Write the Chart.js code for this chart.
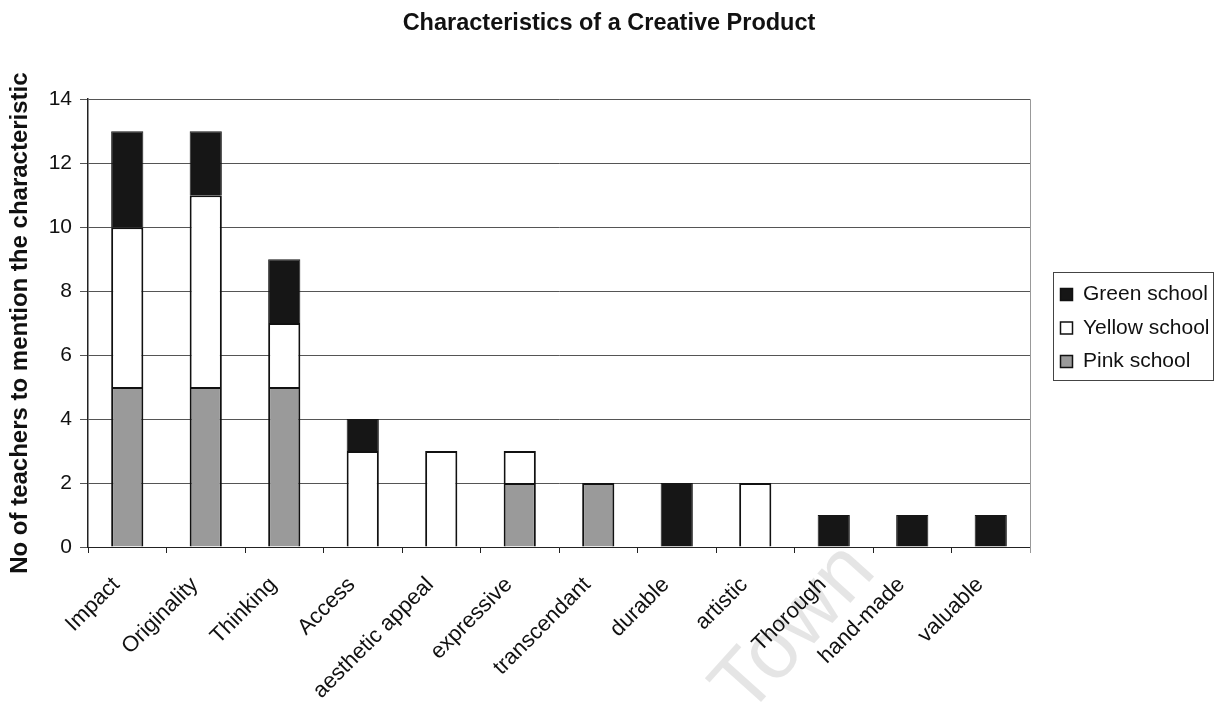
<!DOCTYPE html>
<html><head><meta charset="utf-8">
<script src="https://cdn.jsdelivr.net/npm/chart.js@4/dist/chart.umd.min.js"></script>
<style>html,body{margin:0;padding:0;background:#fff}#wrap{width:1218px;height:702px}</style>
</head><body><div id="wrap"><canvas id="c" width="1218" height="702"></canvas></div>
<script>
const categories = ["Impact","Originality","Thinking","Access","aesthetic appeal","expressive","transcendant","durable","artistic","Thorough","hand-made","valuable"];
const pinkSchool   = [5,5,5,0,0,2,2,0,0,0,0,0];
const yellowSchool = [5,6,2,3,3,1,0,0,2,0,0,0];
const greenSchool  = [3,2,2,1,0,0,0,2,0,1,1,1];
const yTicks = [0,2,4,6,8,10,12,14];

const FONT = "'Liberation Sans', Arial, sans-serif";

const extras = {
  id: 'extras',
  beforeLayout(chart) {
    const lg = chart.legend;
    if (lg && !lg._patched) {
      const f = lg.fit.bind(lg);
      lg.fit = function () { f(); this.width = 188; };
      lg._patched = true;
    }
  },
  afterLayout(chart) {
    const lg = chart.legend;
    if (lg) { lg.left += 18; lg.right += 18; lg.top -= 23; lg.bottom -= 23; }
  },
  afterDraw(chart) {
    const ctx = chart.ctx, a = chart.chartArea;
    ctx.save();
    // right border of plot area
    ctx.strokeStyle = '#999'; ctx.lineWidth = 1;
    ctx.beginPath(); ctx.moveTo(a.right + 0.5, a.top); ctx.lineTo(a.right + 0.5, a.bottom + 6); ctx.stroke();
    // legend frame
    ctx.strokeStyle = '#444'; ctx.lineWidth = 1;
    ctx.strokeRect(1053.5, 272.5, 160, 108);
    // watermark
    ctx.translate(795, 630);
    ctx.rotate(-48 * Math.PI / 180);
    ctx.fillStyle = 'rgba(0,0,0,0.10)';
    ctx.font = "84px " + FONT;
    ctx.textAlign = 'center'; ctx.textBaseline = 'middle';
    ctx.fillText('Town', 0, 0);
    ctx.restore();
  }
};

new Chart(document.getElementById('c'), {
  type: 'bar',
  data: {
    labels: categories,
    datasets: [
      { label: 'Pink school', data: pinkSchool, backgroundColor: '#9a9a9a', borderColor: '#111', borderWidth: 2 },
      { label: 'Yellow school', data: yellowSchool, backgroundColor: '#ffffff', borderColor: '#111', borderWidth: 2 },
      { label: 'Green school', data: greenSchool, backgroundColor: '#161616', borderColor: '#161616', borderWidth: 1 }
    ]
  },
  plugins: [extras],
  options: {
    responsive: false,
    animation: false,
    devicePixelRatio: 1,
    layout: { padding: { top: 0, right: 0, bottom: 0, left: 0 } },
    datasets: { bar: { barPercentage: 0.41, categoryPercentage: 1.0 } },
    plugins: {
      title: { display: true, text: 'Characteristics of a Creative Product', color: '#111',
        font: { family: FONT, size: 23.5, weight: 'bold' }, padding: { top: 9, bottom: 62 } },
      legend: {
        position: 'right', reverse: true,
        labels: { color: '#111', font: { family: FONT, size: 21 }, boxWidth: 12, boxHeight: 12, padding: 12.5,
          generateLabels(chart) {
            return chart.data.datasets.map((d, i) => ({
              text: d.label, fillStyle: d.backgroundColor, strokeStyle: '#111', lineWidth: 1.5,
              hidden: false, datasetIndex: i, fontColor: '#111'
            }));
          }
        }
      },
      tooltip: { enabled: false }
    },
    scales: {
      x: {
        stacked: true,
        afterFit(scale) { scale.height = 155; },
        grid: { display: true, drawOnChartArea: false, drawTicks: true, tickLength: 6, color: '#222', offset: true },
        border: { display: true, color: '#222', width: 1 },
        ticks: { color: '#111', font: { family: FONT, size: 22 }, minRotation: 45, maxRotation: 45, padding: 19, labelOffset: -11, autoSkip: false }
      },
      y: {
        stacked: true, min: 0, max: 14,
        afterFit(scale) { scale.width = 88; },
        afterBuildTicks(scale) { scale.ticks = yTicks.map(v => ({ value: v })); },
        grid: { color: '#555', lineWidth: 1, tickLength: 8, drawTicks: true },
        border: { display: true, color: '#222', width: 1.5 },
        ticks: { color: '#111', font: { family: FONT, size: 21 }, padding: 8 },
        title: { display: true, text: 'No of teachers to mention the characteristic', color: '#111',
          font: { family: FONT, size: 24, weight: 'bold' }, padding: { top: 6, bottom: 0 } }
      }
    }
  }
});
</script>
</body></html>
